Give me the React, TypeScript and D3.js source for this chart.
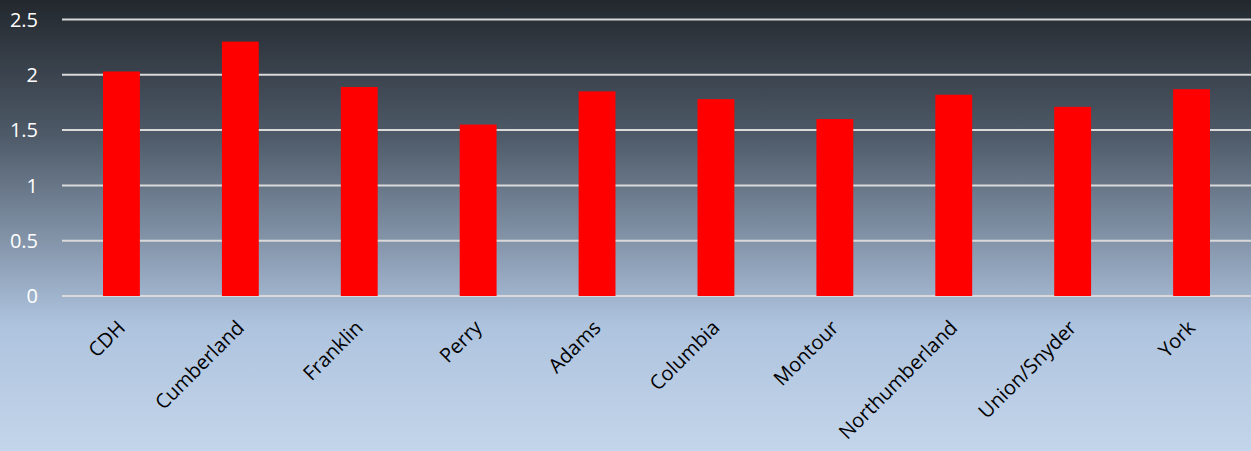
import React, { useRef, useEffect } from 'react';
import * as d3 from 'd3';

const categories = ['CDH', 'Cumberland', 'Franklin', 'Perry', 'Adams', 'Columbia', 'Montour', 'Northumberland', 'Union/Snyder', 'York'];
const values = [2.03, 2.3, 1.89, 1.55, 1.85, 1.78, 1.6, 1.82, 1.71, 1.87];
const yTicks = [0, 0.5, 1, 1.5, 2, 2.5];

const W = 1251;
const H = 451;

const App: React.FC = () => {
  const ref = useRef<SVGSVGElement>(null);

  useEffect(() => {
    if (!ref.current) return;
    const svg = d3.select(ref.current);
    svg.selectAll('*').remove();

    const margin = { top: 19.5, right: 0, bottom: 155, left: 62 };

    // background gradient
    const defs = svg.append('defs');
    const grad = defs.append('linearGradient')
      .attr('id', 'bg')
      .attr('x1', 0).attr('y1', 0).attr('x2', 0).attr('y2', 1);
    grad.append('stop').attr('offset', '0%').attr('stop-color', '#23282e');
    grad.append('stop').attr('offset', '30%').attr('stop-color', '#4e5a68');
    grad.append('stop').attr('offset', '72%').attr('stop-color', '#aec3de');
    grad.append('stop').attr('offset', '100%').attr('stop-color', '#c3d5ea');

    svg.append('rect').attr('width', W).attr('height', H).attr('fill', 'url(#bg)');

    const x = d3.scaleBand()
      .domain(categories)
      .range([margin.left, W - margin.right])
      .paddingInner(0.69)
      .paddingOuter(0.345);

    const y = d3.scaleLinear()
      .domain([0, 2.5])
      .range([H - margin.bottom, margin.top]);

    // gridlines
    svg.append('g')
      .selectAll('line')
      .data(yTicks)
      .join('line')
      .attr('x1', margin.left)
      .attr('x2', W - margin.right)
      .attr('y1', d => y(d))
      .attr('y2', d => y(d))
      .attr('stroke', '#d9d9d9')
      .attr('stroke-width', 2);

    // y labels
    svg.append('g')
      .selectAll('text')
      .data(yTicks)
      .join('text')
      .attr('x', 38)
      .attr('y', d => y(d))
      .attr('dy', '0.36em')
      .attr('text-anchor', 'end')
      .attr('fill', '#ffffff')
      .attr('font-family', '"Open Sans", sans-serif')
      .attr('font-size', 20)
      .text(d => String(d));

    // bars
    svg.append('g')
      .selectAll('rect')
      .data(values)
      .join('rect')
      .attr('x', (_, i) => x(categories[i]) as number)
      .attr('width', x.bandwidth())
      .attr('y', d => y(d))
      .attr('height', d => y(0) - y(d))
      .attr('fill', '#ff0000');

    // x labels
    svg.append('g')
      .selectAll('text')
      .data(categories)
      .join('text')
      .attr('transform', d => {
        const cx = (x(d) as number) + x.bandwidth() / 2 + 5;
        return `translate(${cx},${y(0) + 33}) rotate(-45)`;
      })
      .attr('text-anchor', 'end')
      .attr('fill', '#000000')
      .attr('font-family', '"Open Sans", sans-serif')
      .attr('font-size', 20)
      .text(d => d);
  }, []);

  return <svg ref={ref} width={W} height={H} style={{ display: 'block', position: 'absolute', left: 0, top: 0 }} />;
};

export default App;
